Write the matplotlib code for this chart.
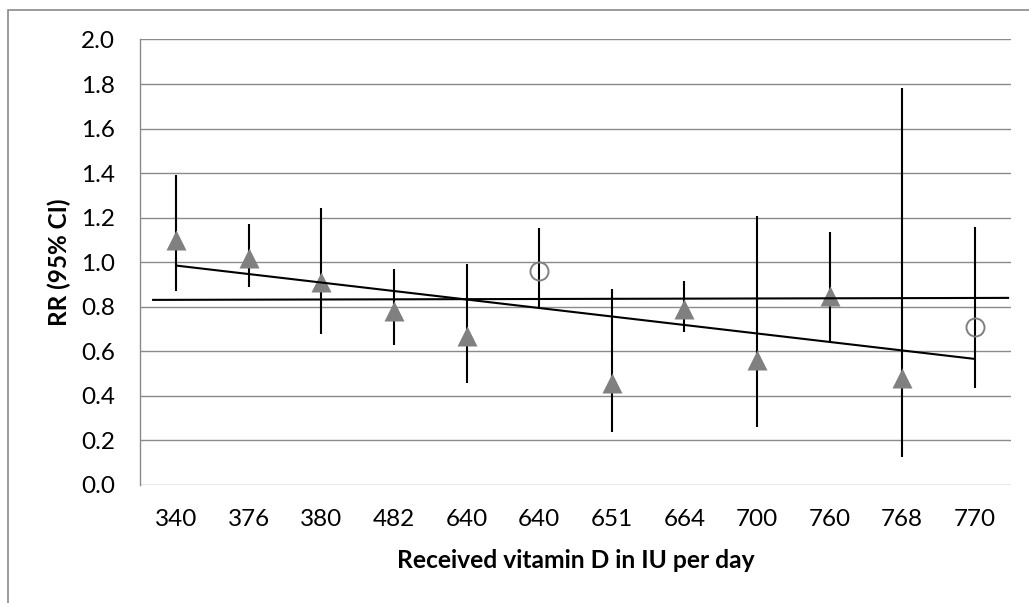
import numpy as np
import matplotlib
matplotlib.use('Agg')
import matplotlib.pyplot as plt
from matplotlib.patches import Rectangle

plt.rcParams['font.family'] = ['Lato', 'DejaVu Sans']

# Data
doses = ['340', '376', '380', '482', '640', '640', '651', '664', '700', '760', '768', '770']
rr = [1.10, 1.02, 0.91, 0.78, 0.67, 0.96, 0.46, 0.79, 0.56, 0.85, 0.48, 0.71]
ci_low = [0.873, 0.888, 0.677, 0.629, 0.46, 0.797, 0.237, 0.686, 0.262, 0.647, 0.127, 0.437]
ci_high = [1.392, 1.173, 1.245, 0.971, 0.99, 1.152, 0.879, 0.915, 1.209, 1.134, 1.783, 1.158]
open_marker = [False, False, False, False, False, True, False, False, False, False, False, True]

# Two fitted lines (category positions, RR)
flat_x = [-0.32, 11.46]
flat_y = [0.831, 0.840]
trend_x = [0, 11]
trend_y = [0.985, 0.566]

fig = plt.figure(figsize=(10.29, 6.03), dpi=100)
ax = fig.add_axes([0.1361, 0.1957, 0.8464, 0.7388])

x = np.arange(len(doses))
rr = np.array(rr)
is_open = np.array(open_marker)

# grid and frame
for v in np.arange(0, 2.01, 0.2):
    ax.axhline(v, color='#8a8a8a', lw=1.0, zorder=0)
for side in ['top', 'right', 'bottom']:
    ax.spines[side].set_visible(False)
ax.spines['left'].set_color('#8a8a8a')
ax.spines['left'].set_linewidth(1.0)

# error bars
ax.vlines(x, ci_low, ci_high, color='black', lw=1.5, zorder=2)

# markers
ax.plot(x[~is_open], rr[~is_open], '^', ms=14.5, color='#808080', mec='none', zorder=3)
ax.plot(x[is_open], rr[is_open], 'o', ms=13, mfc='none', mec='#808080', mew=1.4, zorder=3)

# lines
ax.plot(flat_x, flat_y, color='black', lw=1.5, zorder=4)
ax.plot(trend_x, trend_y, color='black', lw=1.5, zorder=4)

ax.set_xlim(-0.5, 11.5)
ax.set_ylim(0, 2.0)
ax.set_yticks(np.arange(0, 2.01, 0.2))
ax.set_yticklabels([f'{v:.1f}' for v in np.arange(0, 2.01, 0.2)])
ax.set_xticks(x)
ax.set_xticklabels(doses)
ax.tick_params(axis='both', length=0, labelsize=17.5)
ax.tick_params(axis='x', pad=17)
ax.tick_params(axis='y', pad=18)

ax.set_xlabel('Received vitamin D in IU per day', fontsize=17.7, fontweight='bold')
ax.set_ylabel('RR (95% CI)', fontsize=17.5, fontweight='bold')
ax.xaxis.set_label_coords(0.5, -0.143)
ax.yaxis.set_label_coords(-0.079, 0.5)

# outer chart border
fig.patches.append(Rectangle((8 / 1029, -0.1), 1.2, 1.1 - 10 / 603, transform=fig.transFigure,
                             fill=False, edgecolor='#8a8a8a', lw=1.2))

fig.savefig('out.png', dpi=100)
